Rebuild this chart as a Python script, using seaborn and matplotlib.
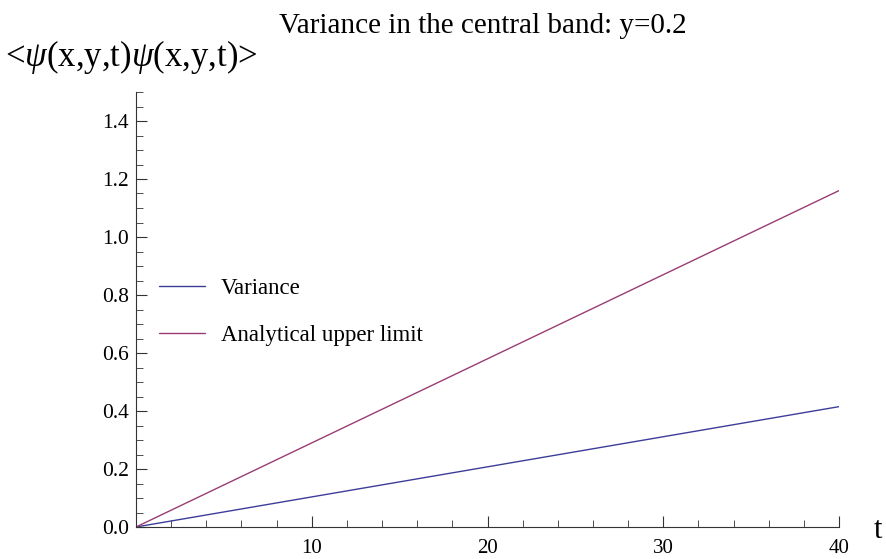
import matplotlib
matplotlib.use("Agg")
import matplotlib.pyplot as plt
import seaborn as sns
import pandas as pd
from matplotlib.ticker import MultipleLocator, FixedLocator

sns.set_style("white")
plt.rcParams['font.family'] = ['Liberation Serif', 'DejaVu Serif']
plt.rcParams['mathtext.fontset'] = 'custom'
plt.rcParams['mathtext.rm'] = 'Liberation Serif'
plt.rcParams['mathtext.it'] = 'Liberation Serif:italic'
plt.rcParams['text.color'] = 'black'
plt.rcParams['xtick.color'] = 'black'
plt.rcParams['ytick.color'] = 'black'

# Data (straight lines from origin)
t_values = [0, 40]
variance = [0.0, 0.415]
upper_limit = [0.0, 1.16]
series_names = ["Variance", "Analytical upper limit"]
colors = ["#3d3d99", "#993d74"]

df = pd.DataFrame({
    "t": t_values * 2,
    "value": variance + upper_limit,
    "series": [series_names[0]] * len(t_values) + [series_names[1]] * len(t_values),
})

fig = plt.figure(figsize=(8.87, 5.59), dpi=100)
ax = fig.add_axes([136 / 887, 1 - 527 / 559, (839 - 136) / 887, (527 - 92) / 559])

sns.lineplot(data=df, x="t", y="value", hue="series", palette=colors,
             linewidth=1.0, ax=ax, legend=True)

ax.set_xlim(0, 40)
ax.set_ylim(0, 1.5)
for s in ["top", "right"]:
    ax.spines[s].set_visible(False)
for s in ["left", "bottom"]:
    ax.spines[s].set_color("#333333")
    ax.spines[s].set_linewidth(0.8)

ax.xaxis.set_major_locator(FixedLocator([10, 20, 30, 40]))
ax.xaxis.set_minor_locator(MultipleLocator(2))
ax.yaxis.set_minor_locator(MultipleLocator(0.05))
ax.set_yticks([0.0, 0.2, 0.4, 0.6, 0.8, 1.0, 1.2, 1.4])
ax.set_yticklabels([f"{v:.1f}" for v in ax.get_yticks()])
ax.tick_params(which="both", bottom=True, left=True, top=False, right=False)
ax.tick_params(which="major", direction="in", length=8, width=0.8, color="#333333",
               labelsize=15.5, labelcolor="black")
ax.tick_params(which="minor", direction="in", length=5, width=0.6, color="#333333")
ax.tick_params(axis="x", which="major", pad=8.5, labelsize=15)
ax.tick_params(axis="y", which="major", pad=5)
ax.set_xlabel("")
ax.set_ylabel("")

leg = ax.legend(loc="center left", bbox_to_anchor=(0.02, (527 - 312) / 435), frameon=False,
                fontsize=16.5, handlelength=2.0, handletextpad=0.7, labelspacing=1.15,
                borderaxespad=0)
for line in leg.get_lines():
    line.set_linewidth(1.0)
for txt in leg.get_texts():
    txt.set_color("black")

fig.text(483 / 887, 1 - 33 / 559, "Variance in the central band: y=0.2",
         ha="center", va="baseline", fontsize=21)
fig.text(5 / 887, 1 - 57 / 559, r"<$\it{\psi}$(x,y,t)$\it{\psi}$(x,y,t)>",
         ha="left", va="center", fontsize=25)
fig.text(878 / 887, 1 - 538 / 559, "t", ha="center", va="baseline", fontsize=22)

fig.savefig("out.png", dpi=100)
